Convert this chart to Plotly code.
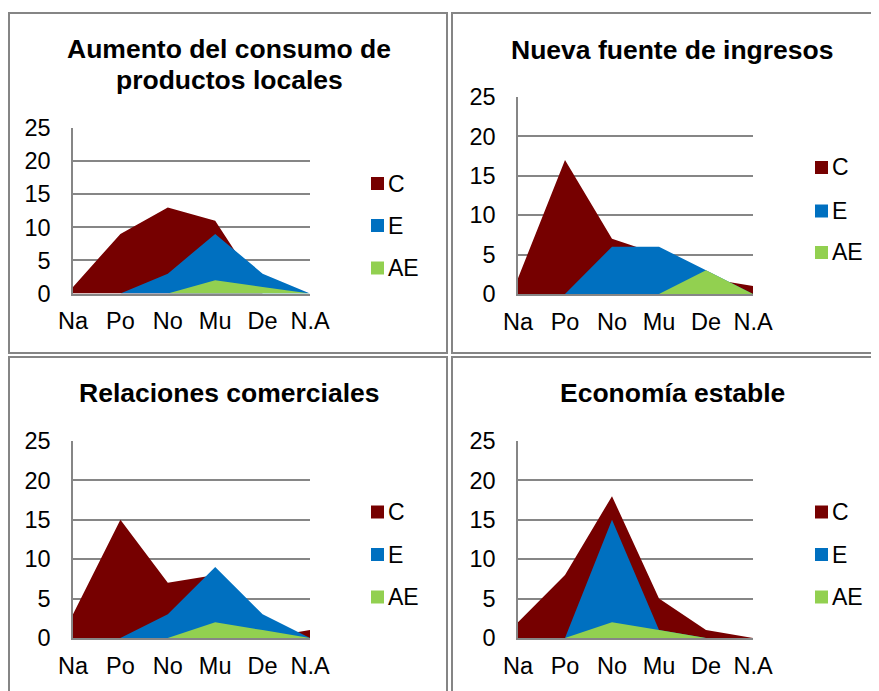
import plotly.graph_objects as go

# ---------------- data ----------------
categories = ["Na", "Po", "No", "Mu", "De", "N.A"]
series_names = ["C", "E", "AE"]
y_ticks = [0, 5, 10, 15, 20, 25]

titles = [
    ["Aumento del consumo de", "productos locales"],
    ["Nueva fuente de ingresos"],
    ["Relaciones comerciales"],
    ["Economía estable"],
]

consumo_C = [1, 9, 13, 11, 0, 0]
consumo_E = [0, 0, 3, 9, 3, 0]
consumo_AE = [0, 0, 0, 2, 1, 0]

ingresos_C = [2, 17, 7, 5, 2, 1]
ingresos_E = [0, 0, 6, 6, 3, 0]
ingresos_AE = [0, 0, 0, 0, 3, 0]

relaciones_C = [3, 15, 7, 8, 0, 1]
relaciones_E = [0, 0, 3, 9, 3, 0]
relaciones_AE = [0, 0, 0, 2, 1, 0]

economia_C = [2, 8, 18, 5, 1, 0]
economia_E = [0, 0, 15, 1, 0, 0]
economia_AE = [0, 0, 2, 1, 0, 0]

panel_series = [
    [consumo_C, consumo_E, consumo_AE],
    [ingresos_C, ingresos_E, ingresos_AE],
    [relaciones_C, relaciones_E, relaciones_AE],
    [economia_C, economia_E, economia_AE],
]

# ---------------- styles / layout ----------------
W, H = 879, 691
OFF = 8  # page body margin in the browser
colors = ["#760000", "#0070C0", "#92D050"]
grid_col = "#868686"
border_col = "#858585"
FONT = "Liberation Sans, Arial, sans-serif"

def px(x):
    return (x - OFF) / W

def py(y):
    return 1 - (y - OFF) / H

# pixel geometry of each panel (screen coordinates)
panels = [
    dict(plot=(73, 310, 293.5, 128), box=(9, 13, 447, 353), title_y=[49, 80],
         title_x=229, leg_x=371, leg_y=[183.5, 225.5, 268]),
    dict(plot=(518, 753, 294, 97), box=(452, 13, 892, 353), title_y=[50],
         title_x=672, leg_x=815, leg_y=[167.5, 211, 252.5]),
    dict(plot=(73, 310, 638, 441), box=(9, 357, 447, 720), title_y=[393],
         title_x=229, leg_x=371, leg_y=[512, 554.5, 597]),
    dict(plot=(518, 753, 638, 441), box=(452, 357, 892, 720), title_y=[393],
         title_x=672, leg_x=815, leg_y=[512, 554.5, 597]),
]

fig = go.Figure()
shapes = []
annotations = []

for i, (p, series) in enumerate(zip(panels, panel_series)):
    n = "" if i == 0 else str(i + 1)
    xa, ya = "x" + n, "y" + n
    for name, vals, col in zip(series_names, series, colors):
        fig.add_trace(go.Scatter(
            x=categories, y=vals, name=name, mode="none",
            fill="tozeroy", fillcolor=col, showlegend=False,
            xaxis=xa, yaxis=ya, hoverinfo="x+y+name",
        ))
    x0, x1, yb, yt = p["plot"]
    fig.layout["xaxis" + n] = dict(
        domain=[px(x0), px(x1)], anchor=ya, type="category",
        categoryorder="array", categoryarray=categories,
        range=[0, len(categories) - 1], showgrid=False, zeroline=False,
        showline=True, linecolor=grid_col, linewidth=1.5,
        ticks="outside", ticklen=6, tickcolor="rgba(0,0,0,0)",
        tickfont=dict(family=FONT, size=23.5, color="#000"),
        fixedrange=True, automargin=False,
    )
    fig.layout["yaxis" + n] = dict(
        domain=[py(yb), py(yt)], anchor=xa, range=[0, 25],
        tickvals=y_ticks, ticktext=[str(t) for t in y_ticks],
        showgrid=True, gridcolor=grid_col, gridwidth=1.5, zeroline=False,
        showline=True, linecolor=grid_col, linewidth=1.5,
        ticks="outside", ticklen=16, tickcolor="rgba(0,0,0,0)",
        tickfont=dict(family=FONT, size=23.5, color="#000"),
        fixedrange=True, automargin=False,
    )
    bx0, by0, bx1, by1 = p["box"]
    shapes.append(dict(type="rect", xref="paper", yref="paper",
                       x0=px(bx0), x1=px(bx1), y0=py(by1), y1=py(by0),
                       line=dict(color=border_col, width=2), layer="below"))
    for line, ty in zip(titles[i], p["title_y"]):
        annotations.append(dict(text="<b>" + line + "</b>", xref="paper", yref="paper",
                                x=px(p["title_x"]), y=py(ty), xanchor="center", yanchor="middle",
                                showarrow=False,
                                font=dict(family=FONT, size=26.5, color="#000")))
    # legend swatches + labels
    for name, col, ly in zip(series_names, colors, p["leg_y"]):
        lx = p["leg_x"]
        shapes.append(dict(type="rect", xref="paper", yref="paper",
                           x0=px(lx), x1=px(lx + 13), y0=py(ly + 6.5), y1=py(ly - 6.5),
                           fillcolor=col, line=dict(width=0)))
        annotations.append(dict(text=name, xref="paper", yref="paper",
                                x=px(lx + 15), y=py(ly), xanchor="left", yanchor="middle",
                                showarrow=False,
                                font=dict(family=FONT, size=23, color="#000")))

fig.update_layout(
    width=W, height=H, margin=dict(l=0, r=0, t=0, b=0, pad=0, autoexpand=False),
    paper_bgcolor="white", plot_bgcolor="rgba(0,0,0,0)",
    shapes=shapes, annotations=annotations, showlegend=False,
)

fig.write_html("out.html")
